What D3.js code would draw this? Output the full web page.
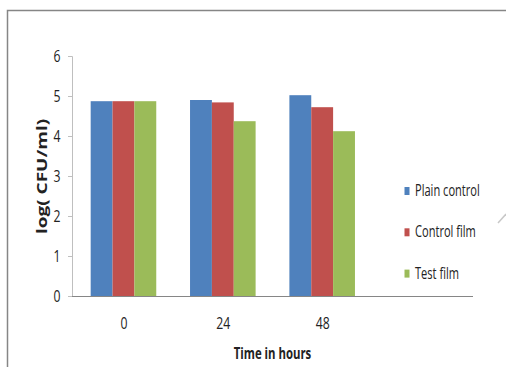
<!DOCTYPE html>
<html>
<head>
<meta charset="utf-8">
<script src="https://cdn.jsdelivr.net/npm/d3@7"></script>
<style>
  body { margin: 0; background: #fff; }
  svg text { font-family: "Open Sans", Arial, sans-serif; fill: #222; }
</style>
</head>
<body>
<div id="chart"></div>
<script>
var categories = ["0", "24", "48", ""];
var series = ["Plain control", "Control film", "Test film"];
var plainControl = [4.87, 4.9, 5.02];
var controlFilm = [4.87, 4.84, 4.72];
var testFilm = [4.87, 4.37, 4.12];
var yTicks = [0, 1, 2, 3, 4, 5, 6];

var pal = {
  "blue": "#4F81BD",
  "red": "#C0504D",
  "green": "#9BBB59"
};
var colors = [pal.blue, pal.red, pal.green];

// the original picture is squeezed sideways, so the text is too
var squeeze = 0.72;

var W = 506, H = 367;
var margin = {left: 72, top: 56, right: 33, bottom: 71};
var width = W - margin.left - margin.right;
var height = H - margin.top - margin.bottom;

var svg = d3.select("#chart").append("svg")
    .attr("width", W)
    .attr("height", H);

// frame of the chart area (cropped on the right and bottom)
svg.append("path")
    .attr("d", "M7.5,367 L7.5,10.5 L506,10.5")
    .attr("fill", "none")
    .attr("stroke", "#868686")
    .attr("stroke-width", 1.5);

svg.append("line")
    .attr("x1", 498).attr("y1", 223).attr("x2", 506).attr("y2", 214)
    .attr("stroke", "#c8c8c8").attr("stroke-width", 1.5);

var g = svg.append("g")
    .attr("transform", "translate(" + margin.left + "," + margin.top + ")");

var x = d3.scaleBand()
    .domain(categories.map(function(d, i) { return i; }))
    .range([0, width])
    .paddingInner(0.34)
    .paddingOuter(0.188);

var xs = d3.scaleBand()
    .domain(series)
    .range([0, x.bandwidth()]);

var y = d3.scaleLinear()
  .domain([0, 6])
  .range([height, 0]);

var rows = categories.slice(0, 3).map(function(c, i) {
  return {cat: i, vals: [plainControl[i], controlFilm[i], testFilm[i]]};
});

// bars
var grp = g.selectAll(".grp")
    .data(rows)
  .enter().append("g")
    .attr("transform", function(d) { return "translate(" + x(d.cat) + ",0)"; });

grp.selectAll("rect")
    .data(function(d) { return d.vals.map(function(v, j) { return {s: series[j], v: v, j: j}; }); })
  .enter().append("rect")
    .attr("x", function(d) { return xs(d.s); })
    .attr("width", xs.bandwidth())
    .attr("y", function(d) { return y(d.v); })
    .attr("height", function(d) { return height - y(d.v); })
    .attr("fill", function(d) { return colors[d.j]; });

// y axis
var yAxis = g.append("g")
    .call(d3.axisLeft(y).tickValues(yTicks).tickSize(4).tickPadding(7.5).tickFormat(d3.format("d")));
yAxis.select(".domain").attr("stroke", "#bfbfbf");
yAxis.selectAll(".tick line").attr("stroke", "#bfbfbf");
yAxis.selectAll(".tick text")
    .attr("font-size", "17px")
    .attr("x", -11.5 / squeeze)
    .attr("transform", "scale(" + squeeze + ",1)")
    .style("fill", "#222");

// x axis
var xAxis = g.append("g")
    .attr("transform", "translate(0," + height + ")");
xAxis.append("line")
    .attr("x1", 0).attr("x2", width)
    .attr("y1", 0.5).attr("y2", 0.5)
    .attr("stroke", "#868686").attr("stroke-width", 1);
xAxis.selectAll("text")
    .data(categories.slice(0, 3))
  .enter().append("text")
    .attr("transform", function(d, i) {
      return "translate(" + (x(i) + x.bandwidth() / 2 + 0.5) + ",33) scale(" + squeeze + ",1)";
    })
    .attr("text-anchor", "middle")
    .attr("font-size", "17px")
    .text(function(d) { return d; });

// axis titles
svg.append("text")
    .attr("transform", "translate(46.5,176.5) rotate(-90) scale(1," + squeeze + ")")
    .attr("text-anchor", "middle")
    .attr("font-size", "19px")
    .attr("font-weight", "bold")
    .text("log( CFU/ml)");

svg.append("text")
    .attr("transform", "translate(272.5,359) scale(" + squeeze + ",1)")
    .attr("text-anchor", "middle")
    .attr("font-size", "15.8px")
    .attr("font-weight", "bold")
    .text("Time in hours");

// legend
var legend = svg.append("g")
    .attr("transform", "translate(404,191)");
var li = legend.selectAll("g")
    .data(series)
  .enter().append("g")
    .attr("transform", function(d, i) { return "translate(0," + (i * 41.3) + ")"; });
li.append("rect")
    .attr("x", 0.5).attr("y", -4)
    .attr("width", 5).attr("height", 8)
    .attr("fill", function(d, i) { return colors[i]; });
li.append("text")
    .attr("transform", "translate(11,5) scale(" + squeeze + ",1)")
    .attr("font-size", "15.4px")
    .text(function(d) { return d; });
</script>
</body>
</html>
